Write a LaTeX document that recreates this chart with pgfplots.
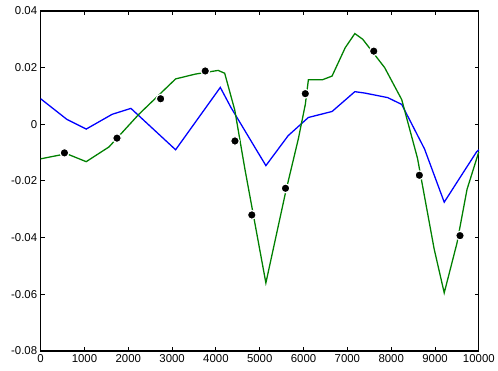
\documentclass[border=0pt]{standalone}
\usepackage{pgfplots}
\pgfplotsset{compat=1.18}
\usepackage{fontspec}
\setmainfont{Liberation Sans}
\begin{document}
\begin{tikzpicture}[x=1pt,y=1pt]
\begin{axis}[
  name=ax,
  scale only axis,
  width=442pt, height=343pt,
  xmin=0, xmax=10000, ymin=-0.08, ymax=0.04,
  xtick={0,1000,...,10000},
  ytick={-0.08,-0.06,-0.04,-0.02,0,0.02,0.04},
  scaled x ticks=false, scaled y ticks=false,
  xticklabel style={/pgf/number format/1000 sep={}},
  yticklabel style={/pgf/number format/fixed,/pgf/number format/precision=2},
  /pgf/number format/assume math mode=true,
  tick label style={font=\fontsize{11.5}{12}\selectfont},
  tick align=inside,
  major tick length=4pt,
  axis line style={line width=1.3pt},
  every tick/.style={black, line width=0.9pt},
  clip=false,
]
\addplot[color={rgb,255:red,0;green,0;blue,255}, line width=1.3pt] coordinates {
(0,0.009) (600,0.0017) (1040,-0.0017) (1630,0.0035) (2060,0.0056) (3080,-0.009)
(4100,0.013) (4340,0.006) (5140,-0.0146) (5650,-0.004) (6110,0.0024) (6650,0.0045)
(7170,0.0115) (7400,0.011) (7920,0.0094) (8240,0.007) (8760,-0.0087) (9210,-0.0275)
(9500,-0.0205) (9950,-0.0097) (10000,-0.009)
};
\addplot[color={rgb,255:red,0;green,128;blue,0}, line width=1.3pt] coordinates {
(0,-0.0122) (590,-0.0104) (1040,-0.0132) (1560,-0.008) (2240,0.0035) (3080,0.016)
(3530,0.0177) (4050,0.019) (4200,0.018) (4430,0.005) (4660,-0.0157) (5140,-0.056)
(5590,-0.024) (5880,-0.0052) (6040,0.007) (6110,0.0157) (6430,0.0157) (6650,0.017)
(6950,0.027) (7170,0.032) (7350,0.030) (7850,0.020) (8240,0.0087) (8600,-0.012)
(8980,-0.044) (9210,-0.0595) (9500,-0.042) (9730,-0.023) (10000,-0.0097)
};
\addplot[only marks, mark=*, mark size=4.4pt, mark options={fill=black, draw=white, line width=1.2pt}] coordinates {
(543,-0.0101) (1742,-0.0049) (2738,0.009) (3756,0.0188) (4434,-0.0059) (4819,-0.032)
(5588,-0.0226) (6040,0.0108) (7602,0.0258) (8643,-0.018) (9570,-0.0393)
};
\end{axis}
\path (ax.south west) ++(-41pt,-20pt) coordinate (bl);
\path (ax.north east) ++(15pt,11pt) coordinate (tr);
\path (bl) rectangle (tr);
\end{tikzpicture}
\end{document}
